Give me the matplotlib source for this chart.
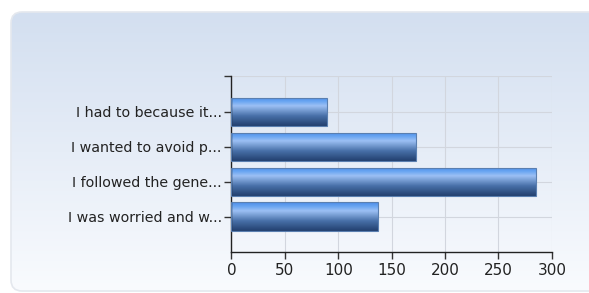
import numpy as np
import matplotlib
matplotlib.use('Agg')
import matplotlib.pyplot as plt
from matplotlib.patches import FancyBboxPatch
from matplotlib.colors import LinearSegmentedColormap

# data
labels = ['I had to because it...', 'I wanted to avoid p...',
          'I followed the gene...', 'I was worried and w...']
values = [89, 173, 285, 137]
xticks = [0, 50, 100, 150, 200, 250, 300]

fig = plt.figure(figsize=(5.89, 2.93), dpi=100)
fig.patch.set_facecolor('white')

# rounded background panel with vertical gradient
bg = fig.add_axes([0, 0, 1, 1], zorder=0)
bg.set_xlim(0, 589)
bg.set_ylim(0, 293)
bg.axis('off')
panel = FancyBboxPatch((11, 2), 591, 279, boxstyle='round,pad=0,rounding_size=11',
                       facecolor='none', edgecolor='#e4e8ee', lw=1.2)
bg.add_patch(panel)
grad = np.linspace(0, 1, 256).reshape(-1, 1)
bg_cmap = LinearSegmentedColormap.from_list('bg', ['#f9fbfe', '#d3dff0'])
im = bg.imshow(grad, cmap=bg_cmap, extent=[11, 602, 2, 281], origin='lower',
               aspect='auto', zorder=0)
im.set_clip_path(panel)

ax = fig.add_axes([0.393, 0.1416, 0.544, 0.599], zorder=1)
ax.patch.set_alpha(0)
pos = np.arange(len(labels))[::-1]
bars = ax.barh(pos, values, height=0.81, color='none', edgecolor='#5a7fb0', lw=0.8, zorder=3)

bar_cmap = LinearSegmentedColormap.from_list(
    'bar', [(0, '#223f6e'), (0.35, '#4870a8'), (0.7, '#9cc0f4'), (0.85, '#6aa6f2'), (1, '#4a8ce8')])
for b in bars:
    x0, y0 = b.get_x(), b.get_y()
    g = ax.imshow(grad, cmap=bar_cmap, extent=[x0, x0 + b.get_width(), y0, y0 + b.get_height()],
                  origin='lower', aspect='auto', zorder=2)
    g.set_clip_path(b)

ax.set_xlim(0, 300)
ax.set_ylim(-1, 4.03)
ax.set_xticks(xticks)
ax.set_yticks(list(pos) + [4.03])
ax.set_yticklabels(labels + [''])
ax.grid(True, color='#d2d6de', lw=0.8, zorder=1)
for s in ['top', 'right']:
    ax.spines[s].set_visible(False)
for s in ['left', 'bottom']:
    ax.spines[s].set_color('#222222')
    ax.spines[s].set_linewidth(1.0)
ax.tick_params(axis='both', direction='out', length=5, width=1, color='#333333',
               labelsize=10.3, labelcolor='#222222')
ax.tick_params(axis='y', pad=2)
ax.tick_params(axis='x', pad=3)
for lab in ax.get_xticklabels():
    lab.set_fontsize(11)

fig.savefig('out.png', dpi=100)
